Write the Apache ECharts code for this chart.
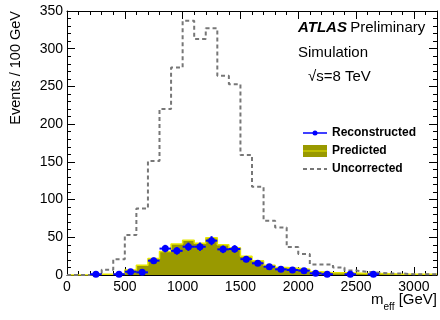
<!DOCTYPE html>
<html>
<head>
<meta charset="utf-8">
<script src="https://cdn.jsdelivr.net/npm/echarts@6/dist/echarts.min.js"></script>
<style>html,body{margin:0;padding:0;background:#fff;}#c{width:440px;height:320px;}</style>
</head>
<body>
<div id="c"></div>
<script>
// Bin lower edges (GeV), bin width 100 GeV, histogram range 0-3200
const binLow = [0,100,200,300,400,500,600,700,800,900,1000,1100,1200,1300,1400,1500,
                1600,1700,1800,1900,2000,2100,2200,2300,2400,2500,2600,2700,2800,2900,3000,3100];
const binWidth = 100;
const xMax = 3200;

// Uncorrected (dashed grey histogram)
const uncorrected = [0,0,2,7,21,53,88,151,220,275,337,313,327,264,253,159,
                     117,72,63,37,28,14,14,10,6,4,3,2,2,1,1,1];
// Predicted (filled olive histogram)
const predicted = [0,0,1,1,2,6.5,13,22,31,41,46,42,49.5,40,36,25,
                   19,13,10,9,7.5,4.4,3,3,2.5,2,2,1.5,1,1,1,1];
// Reconstructed (blue points) and their vertical errors; null = empty bin
const reconstructed = [null,null,1,null,1,4.4,3.5,19,35,32,37.5,37.5,45.5,34,34.5,21,
                       15.5,11,7.5,6.6,5.8,2.2,1,null,1,null,1,null,null,null,null,null];
const recoErr = [0,0,1,0,1,2,2,4,5,5,5.5,5.5,6,5,5,4,
                 3.5,3,2.5,2.5,2,1.5,1,0,1,0,1,0,0,0,0,0];

const xTicks = [0,500,1000,1500,2000,2500,3000];
const yTicks = [0,50,100,150,200,250,300,350];

const FONT = 'Liberation Sans';

function stepData(vals) {
  const d = binLow.map((x, i) => [x, vals[i]]);
  d.push([xMax, vals[vals.length - 1]]);
  return d;
}
const recoData = [];
binLow.forEach((x, i) => {
  if (reconstructed[i] !== null) recoData.push([x + binWidth / 2, reconstructed[i], recoErr[i]]);
});

const chart = echarts.init(document.getElementById('c'), null, {renderer: 'canvas'});

function xAx(pos, interval, len, labels, line) {
  return {
    type: 'value', position: pos, min: 0, max: xMax, interval: interval,
    axisLine: {show: line, onZero: false, lineStyle: {color: '#000', width: 1}},
    axisTick: {show: true, inside: true, length: len, lineStyle: {color: '#000', width: 1}},
    splitLine: {show: false},
    axisLabel: {show: labels, margin: 5, color: '#000', fontFamily: FONT, fontSize: 14,
      formatter: v => xTicks.indexOf(v) >= 0 ? String(v) : ''},
  };
}
function yAx(pos, labels) {
  return {
    type: 'value', position: pos, min: 0, max: 350, interval: 50,
    axisLine: {show: true, onZero: false, lineStyle: {color: '#000', width: 1}},
    axisTick: {show: true, inside: true, length: 8, lineStyle: {color: '#000', width: 1}},
    minorTick: {show: true, splitNumber: 5, length: 4, lineStyle: {color: '#000', width: 1}},
    splitLine: {show: false},
    axisLabel: {show: labels, margin: 4, color: '#000', fontFamily: FONT, fontSize: 14,
      formatter: v => yTicks.indexOf(v) >= 0 ? String(v) : ''},
  };
}

const option = {
  animation: false,
  backgroundColor: '#fff',
  grid: {left: 67, right: 2, top: 11, bottom: 45, containLabel: false},
  xAxis: [
    xAx('bottom', 500, 8, true, true),
    xAx('bottom', 100, 4, false, false),
    xAx('top', 500, 8, false, true),
    xAx('top', 100, 4, false, false),
  ],
  yAxis: [yAx('left', true), yAx('right', false)],
  series: [
    {
      name: 'Predicted', type: 'line', step: 'end', xAxisIndex: 0, yAxisIndex: 0,
      data: stepData(predicted), showSymbol: false, symbol: 'none',
      lineStyle: {color: '#e6e600', width: 1.5},
      areaStyle: {color: '#999900', opacity: 1},
      z: 2,
    },
    {
      name: 'Uncorrected', type: 'line', step: 'end', xAxisIndex: 0, yAxisIndex: 0,
      data: stepData(uncorrected), showSymbol: false, symbol: 'none',
      lineStyle: {color: '#777', width: 2, type: [4, 3]},
      z: 3,
    },
    {
      name: 'Reconstructed', type: 'custom', xAxisIndex: 0, yAxisIndex: 0,
      data: recoData, z: 4,
      renderItem: function (params, api) {
        const c = api.value(0), v = api.value(1), e = api.value(2);
        const p = api.coord([c, v]);
        const l = api.coord([c - binWidth / 2, v]);
        const r = api.coord([c + binWidth / 2, v]);
        const t = api.coord([c, v + e]);
        const b = api.coord([c, Math.max(v - e, 0)]);
        const st = {stroke: '#0000ff', lineWidth: 2};
        return {
          type: 'group',
          children: [
            {type: 'line', shape: {x1: l[0], y1: l[1], x2: r[0], y2: r[1]}, style: st},
            {type: 'line', shape: {x1: t[0], y1: t[1], x2: b[0], y2: b[1]}, style: st},
            {type: 'circle', shape: {cx: p[0], cy: p[1], r: 3.5}, style: {fill: '#0000ff'}},
          ]
        };
      }
    }
  ],
  graphic: [
    {type: 'text', rotation: Math.PI / 2, x: 16, y: 11,
      style: {text: 'Events / 100 GeV', font: '14.5px "' + FONT + '"', fill: '#000', align: 'right', verticalAlign: 'middle'}},
    {type: 'text', x: 437, y: 307,
      style: {
        text: '{m|m}{s|eff}{m| [GeV]}',
        align: 'right', verticalAlign: 'bottom',
        rich: {
          m: {fontFamily: FONT, fontSize: 15, fill: '#000', verticalAlign: 'bottom'},
          s: {fontFamily: FONT, fontSize: 10, fill: '#000', verticalAlign: 'bottom', padding: [0, 0, -5, 0]}
        }
      }},
    {type: 'text', x: 298, y: 28,
      style: {
        text: '{b|ATLAS} {n|Preliminary}', verticalAlign: 'middle',
        rich: {
          b: {fontFamily: FONT, fontSize: 15, fontWeight: 'bold', fontStyle: 'italic', fill: '#000'},
          n: {fontFamily: FONT, fontSize: 15, fill: '#000'}
        }
      }},
    {type: 'text', x: 298, y: 53,
      style: {text: 'Simulation', font: '15px "' + FONT + '"', fill: '#000', verticalAlign: 'middle'}},
    {type: 'text', x: 308, y: 77,
      style: {text: '\u221As=8 TeV', font: '15px "' + FONT + '"', fill: '#000', verticalAlign: 'middle'}},
    // legend
    {type: 'line', shape: {x1: 303, y1: 133, x2: 327, y2: 133}, style: {stroke: '#0000ff', lineWidth: 1.5}},
    {type: 'circle', shape: {cx: 315, cy: 133, r: 2.5}, style: {fill: '#0000ff'}},
    {type: 'text', x: 332, y: 133, style: {text: 'Reconstructed', font: 'bold 12px "' + FONT + '"', fill: '#000', verticalAlign: 'middle'}},
    {type: 'rect', shape: {x: 303, y: 145, width: 24, height: 12}, style: {fill: '#999900'}},
    {type: 'line', shape: {x1: 303, y1: 151, x2: 327, y2: 151}, style: {stroke: '#e6e600', lineWidth: 1}},
    {type: 'text', x: 332, y: 151, style: {text: 'Predicted', font: 'bold 12px "' + FONT + '"', fill: '#000', verticalAlign: 'middle'}},
    {type: 'line', shape: {x1: 303, y1: 169, x2: 327, y2: 169}, style: {stroke: '#777', lineWidth: 2, lineDash: [4, 3]}},
    {type: 'text', x: 332, y: 169, style: {text: 'Uncorrected', font: 'bold 12px "' + FONT + '"', fill: '#000', verticalAlign: 'middle'}},
  ]
};
chart.setOption(option);
</script>
</body>
</html>
